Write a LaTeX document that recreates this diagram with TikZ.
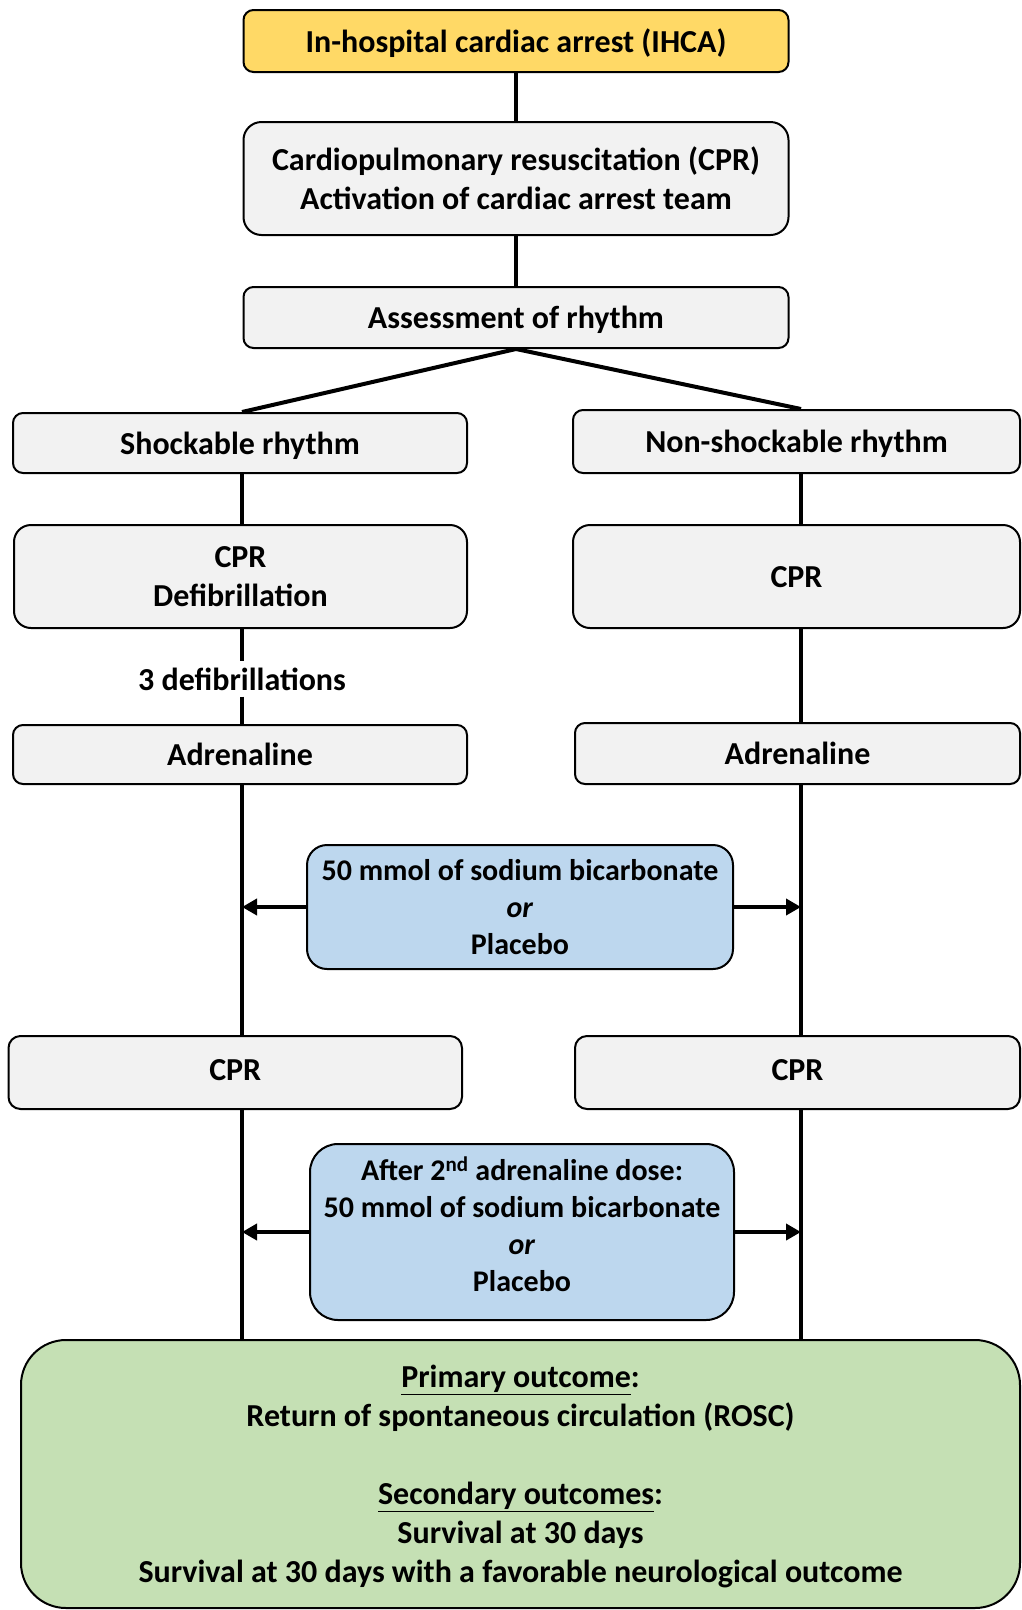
\documentclass[tikz,border=0pt]{standalone}
\usepackage{fontspec}
\setmainfont{Carlito}
\usetikzlibrary{arrows.meta}

\definecolor{arrestyellow}{HTML}{FFD966}
\definecolor{stepgray}{HTML}{F2F2F2}
\definecolor{drugblue}{HTML}{BDD7EE}
\definecolor{outcomegreen}{HTML}{C5E0B4}

\begin{document}
\begin{tikzpicture}[x=1pt, y=-1pt,
        font=\fontsize{32}{39}\selectfont\bfseries,
        box/.style={draw, line width=2pt, fill=stepgray, rounded corners=10pt, align=center, inner sep=0pt, text depth=0pt},
        drug/.style={box, fill=drugblue, font=\fontsize{30}{37}\selectfont\bfseries},
        link/.style={line width=4pt},
        push/.style={line width=4pt, -{Triangle[length=15pt,width=16pt]}}]
        \useasboundingbox (0,0) rectangle (1021,1610);

        \coordinate (laneL) at (242,0);
        \coordinate (laneR) at (801,0);

        \node[box, fill=arrestyellow, minimum width=545pt, minimum height=62pt] (ihca) at (516,41) {In-hospital cardiac arrest (IHCA)};
        \node[box, rounded corners=18pt, minimum width=545pt, minimum height=113pt] (cpr) at (516,178.5) {Cardiopulmonary resuscitation (CPR)\\ Activation of cardiac arrest team};
        \node[box, minimum width=545pt, minimum height=61pt] (assess) at (516,317.5) {Assessment of rhythm};

        \node[box, minimum width=454pt, minimum height=60pt] (shock) at (240,443) {Shockable rhythm};
        \node[box, minimum width=447pt, minimum height=63pt] (nonshock) at (796.5,441.5) {Non-shockable rhythm};

        \node[box, rounded corners=17pt, minimum width=453pt, minimum height=103pt] (defib) at (240.5,576.5) {CPR\\ Defibrillation};
        \node[box, rounded corners=17pt, minimum width=447pt, minimum height=103pt] (cprR) at (796.5,576.5) {CPR};

        \node[inner xsep=2pt, inner ysep=6pt] (shots) at (242,679) {3 defibrillations};

        \node[box, minimum width=454pt, minimum height=59pt] (adrL) at (240,754.5) {Adrenaline};
        \node[box, minimum width=445pt, minimum height=61pt] (adrR) at (797.5,753.5) {Adrenaline};

        \node[drug, rounded corners=20pt, minimum width=426pt, minimum height=124pt] (bicA) at (520,907) {50 mmol of sodium bicarbonate\\ \textit{or}\\ Placebo};

        \node[box, text depth=6pt, rounded corners=12pt, minimum width=453.5pt, minimum height=73pt] (cprL2) at (235.25,1072.5) {CPR};
        \node[box, text depth=6pt, rounded corners=12pt, minimum width=445pt, minimum height=73pt] (cprR2) at (797.5,1072.5) {CPR};

        \node[drug, text depth=16pt, rounded corners=28pt, minimum width=424pt, minimum height=176pt] (bicB) at (522,1232) {After 2\textsuperscript{nd} adrenaline dose:\\ 50 mmol of sodium bicarbonate\\ \textit{or}\\ Placebo};

        \node[box, fill=outcomegreen, rounded corners=45pt, minimum width=999pt, minimum height=268pt] (outcome) at (520.5,1474) {\underline{Primary outcome}:\\ Return of spontaneous circulation (ROSC)\\[39pt] \underline{Secondary outcomes}:\\ Survival at 30 days\\ Survival at 30 days with a favorable neurological outcome};

        \draw[link] (ihca.south) -- (cpr.north);
        \draw[link] (cpr.south) -- (assess.north);
        \draw[link] (assess.south) -- (shock.north -| laneL);
        \draw[link] (assess.south) -- (nonshock.north -| laneR);

        \draw[link] (shock.south -| laneL) -- (defib.north -| laneL);
        \draw[link] (defib.south -| laneL) -- (shots);
        \draw[link] (shots) -- (adrL.north -| laneL);
        \draw[link] (adrL.south -| laneL) -- (cprL2.north -| laneL);
        \draw[link] (cprL2.south -| laneL) -- (outcome.north -| laneL);

        \draw[link] (nonshock.south -| laneR) -- (cprR.north -| laneR);
        \draw[link] (cprR.south -| laneR) -- (adrR.north -| laneR);
        \draw[link] (adrR.south -| laneR) -- (cprR2.north -| laneR);
        \draw[link] (cprR2.south -| laneR) -- (outcome.north -| laneR);

        \draw[push] (bicA.west) -- (bicA.west -| laneL);
        \draw[push] (bicA.east) -- (bicA.east -| laneR);
        \draw[push] (bicB.west) -- (bicB.west -| laneL);
        \draw[push] (bicB.east) -- (bicB.east -| laneR);
\end{tikzpicture}
\end{document}
